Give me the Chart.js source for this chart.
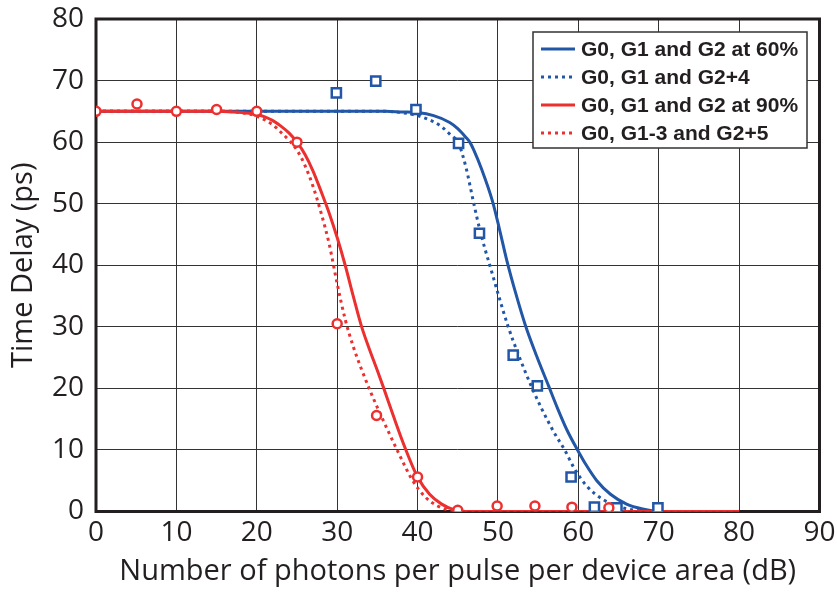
<!DOCTYPE html>
<html>
<head>
<meta charset="utf-8">
<title>Time Delay</title>
<script src="https://cdn.jsdelivr.net/npm/chart.js@4/dist/chart.umd.min.js"></script>
<style>
  html, body { margin: 0; padding: 0; background: #fff; }
  #wrap { width: 837px; height: 592px; }
</style>
</head>
<body>
<div id="wrap"><canvas id="chart" width="837" height="592"></canvas></div>
<script>
const BLUE = '#2256a6';
const RED = '#ec2f2f';
const INK = '#231f20';

// fitted curves
const blue60X = [0, 20, 36, 38, 40, 42, 44, 45, 46, 46.5, 47, 48, 49.3, 50.2, 51.1, 52.2, 53.4, 54.8, 56.3, 57.4, 58.6, 59.9, 61, 62.3, 64, 66, 68, 70, 80];
const blue60Y = [65, 65, 65, 64.9, 64.8, 64.3, 63.2, 62.2, 60.8, 60, 58.7, 55.5, 50.5, 45.8, 40.8, 35.5, 30.3, 25.3, 20.4, 16.8, 13.2, 10, 7.5, 5, 2.8, 1.2, 0.4, 0, 0];

const blue4X = [0, 20, 36, 38, 40, 42, 43, 44, 45.1, 46, 47, 47.7, 48.4, 49.1, 50.1, 51.2, 52.6, 54.2, 55.4, 57, 58.3, 59.5, 61, 63, 65, 67, 69, 80];
const blue4Y = [65, 65, 65, 64.8, 64.3, 63.3, 62.5, 61.3, 59.8, 56, 50, 46, 42.6, 39.5, 35, 30.3, 25.3, 20.2, 16.8, 12.8, 10, 7, 4.2, 2, 0.8, 0.2, 0, 0];

const red90X = [0, 15, 17, 19, 20, 21, 22, 23, 24, 25, 26, 27, 28, 29, 30, 31, 32, 33, 34, 35, 35.8, 37, 38.4, 40, 41.5, 43, 44.5, 46, 80];
const red90Y = [65, 65, 64.9, 64.7, 64.5, 64.1, 63.5, 62.6, 61.5, 60, 58, 55.3, 52, 48.5, 44.5, 40, 35, 30.2, 26.4, 22.9, 20, 15.5, 10.5, 5.6, 2.8, 1.2, 0.3, 0, 0];

const red5X = [0, 15, 18, 20, 22, 23, 24, 25, 26, 27, 28, 29, 30, 31, 32, 33, 34.1, 35.8, 37.6, 39.4, 41, 42.5, 44, 45, 80];
const red5Y = [65, 65, 64.8, 64.2, 62.8, 61.6, 60.3, 58.7, 56.2, 52.8, 48.5, 43.5, 37, 31.2, 26.8, 23.2, 19.6, 14.6, 9.6, 5, 2.3, 0.9, 0.2, 0, 0];

// measured points
const sqX = [29.9, 34.8, 39.8, 45.1, 47.7, 51.9, 54.9, 59.1, 62, 64.8, 69.9];
const sqY = [68, 69.9, 65.3, 59.8, 45.2, 25.4, 20.4, 5.6, 0.7, 0.6, 0.6];
const circX = [0, 5.1, 10, 15, 20, 25, 30, 34.9, 40, 45, 49.9, 54.6, 59.2, 63.8];
const circY = [65, 66.2, 65, 65.3, 65, 60, 30.5, 15.6, 5.6, 0.2, 0.9, 0.9, 0.7, 0.6];

const xTicks = [0, 10, 20, 30, 40, 50, 60, 70, 80, 90];
const yTicks = [0, 10, 20, 30, 40, 50, 60, 70, 80];

const zip = (xs, ys) => xs.map((x, i) => ({ x, y: ys[i] }));

function curve(label, xs, ys, color, dashed, order) {
  return {
    label,
    data: zip(xs, ys),
    showLine: true,
    borderColor: color,
    borderWidth: 3,
    borderDash: dashed ? [3, 4] : [],
    borderCapStyle: 'butt',
    pointRadius: 0,
    fill: false,
    cubicInterpolationMode: 'monotone',
    order,
    inLegend: true
  };
}

function markers(xs, ys, color, style, radius, order) {
  return {
    label: '',
    data: zip(xs, ys),
    showLine: false,
    pointStyle: style,
    pointRadius: radius,
    pointBorderWidth: 2.5,
    pointBorderColor: color,
    pointBackgroundColor: '#fff',
    order
  };
}

// thick frame round the plot area, under the data
const framePlugin = {
  id: 'frame',
  beforeDatasetsDraw(chart) {
    const { ctx, chartArea: a } = chart;
    ctx.save();
    ctx.strokeStyle = INK;
    ctx.lineWidth = 3;
    ctx.strokeRect(a.left, a.top, a.right - a.left, a.bottom - a.top);
    ctx.restore();
  }
};

// boxed legend in the upper right corner
const legendBox = {
  id: 'legendBox',
  afterDraw(chart) {
    const { ctx } = chart;
    const items = chart.data.datasets.filter(d => d.inLegend);
    const x = 533, y = 32, w = 274, h = 116;
    ctx.save();
    ctx.fillStyle = '#fff';
    ctx.fillRect(x, y, w, h);
    ctx.strokeStyle = '#333';
    ctx.lineWidth = 1.5;
    ctx.strokeRect(x, y, w, h);
    ctx.font = 'bold 21px "Liberation Sans", Arial, sans-serif';
    ctx.textBaseline = 'middle';
    items.forEach((d, i) => {
      const ry = y + 17 + i * 28;
      ctx.strokeStyle = d.borderColor;
      ctx.lineWidth = 3;
      ctx.setLineDash(d.borderDash);
      ctx.beginPath();
      ctx.moveTo(x + 8, ry);
      ctx.lineTo(x + 42, ry);
      ctx.stroke();
      ctx.setLineDash([]);
      ctx.fillStyle = INK;
      ctx.fillText(d.label, x + 48, ry + 1);
    });
    ctx.restore();
  }
};

const tickFont = { family: '"Open Sans", "Noto Sans", sans-serif', size: 28 };
const titleFont = { family: '"Open Sans", "Noto Sans", sans-serif', size: 29 };

new Chart(document.getElementById('chart'), {
  type: 'scatter',
  data: {
    datasets: [
      markers(circX, circY, RED, 'circle', 4.5, 0),
      markers(sqX, sqY, BLUE, 'rect', 6.5, 0),
      curve('G0, G1 and G2 at 60%', blue60X, blue60Y, BLUE, false, 4),
      curve('G0, G1 and G2+4', blue4X, blue4Y, BLUE, true, 3),
      curve('G0, G1 and G2 at 90%', red90X, red90Y, RED, false, 2),
      curve('G0, G1-3 and G2+5', red5X, red5Y, RED, true, 1)
    ]
  },
  options: {
    responsive: false,
    animation: false,
    devicePixelRatio: 1,
    layout: { padding: { top: 19, right: 17.5, left: 0, bottom: 0 } },
    plugins: { legend: { display: false }, tooltip: { enabled: false } },
    scales: {
      x: {
        type: 'linear', min: 0, max: 90,
        afterBuildTicks: s => { s.ticks = xTicks.map(v => ({ value: v })); },
        afterFit: s => { s.height = 80.5; s.paddingLeft = 0; s.paddingRight = 0; },
        ticks: { color: INK, font: tickFont, padding: 5, maxRotation: 0, autoSkip: false },
        grid: { color: '#333', lineWidth: 1, drawTicks: false },
        border: { display: false },
        title: {
          display: true,
          text: 'Number of photons per pulse per device area (dB)',
          color: INK, font: titleFont, padding: { top: 0, bottom: 3 }
        }
      },
      y: {
        type: 'linear', min: 0, max: 80,
        afterBuildTicks: s => { s.ticks = yTicks.map(v => ({ value: v })); },
        afterFit: s => { s.width = 96; s.paddingTop = 0; s.paddingBottom = 0; },
        ticks: { color: INK, font: tickFont, padding: 12, autoSkip: false },
        grid: { color: '#333', lineWidth: 1, drawTicks: false },
        border: { display: false },
        title: {
          display: true,
          text: 'Time Delay (ps)',
          color: INK, font: titleFont, padding: { top: 6, bottom: 0 }
        }
      }
    }
  },
  plugins: [framePlugin, legendBox]
});
</script>
</body>
</html>
